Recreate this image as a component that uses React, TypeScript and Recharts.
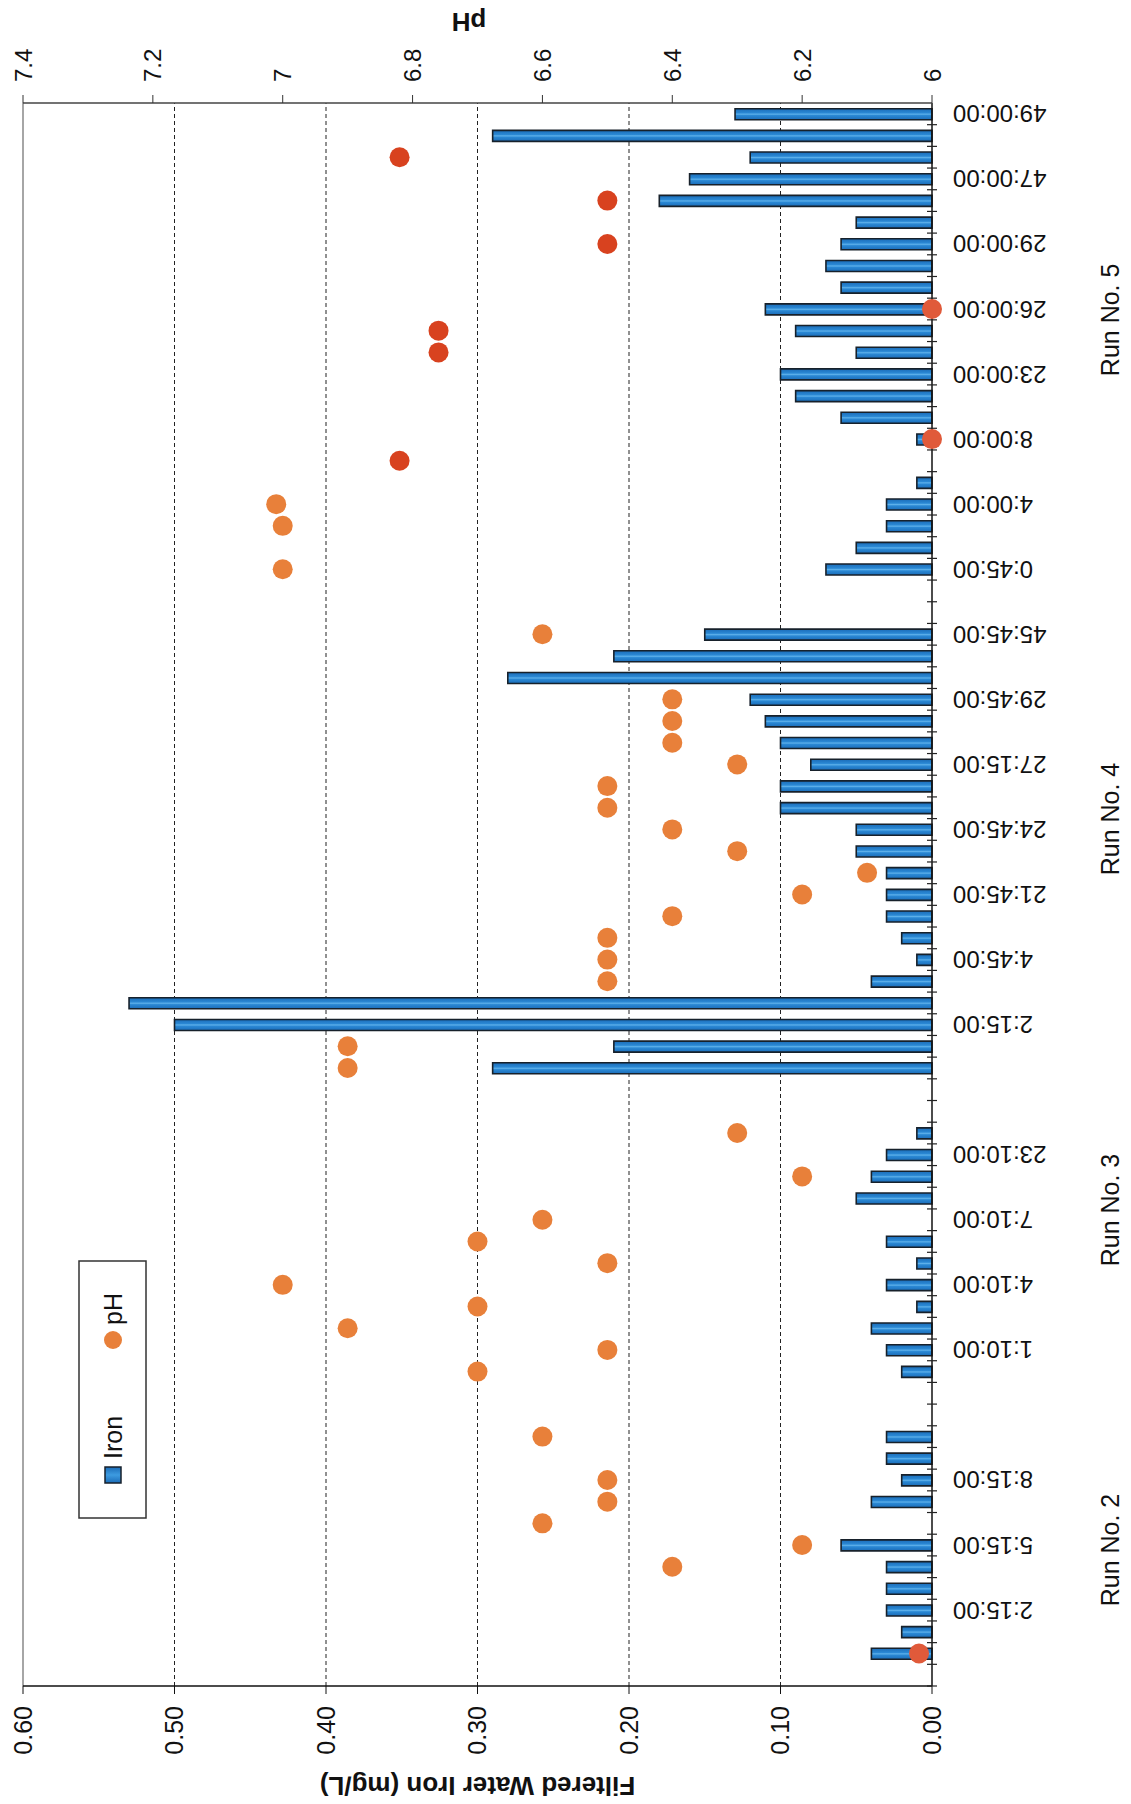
import React from 'react';
import { ComposedChart, Bar, Scatter, XAxis, YAxis, CartesianGrid, ReferenceLine } from 'recharts';

// Category labels (left→right in the unrotated chart; only every third is printed)
const timeLabels: string[] = [
  '', '', '',
  '2:15:00', '', '',
  '5:15:00', '', '',
  '8:15:00', '', '',
  '', '', '',
  '1:10:00', '', '',
  '4:10:00', '', '',
  '7:10:00', '', '',
  '23:10:00', '', '',
  '', '', '',
  '2:15:00', '', '',
  '4:45:00', '', '',
  '21:45:00', '', '',
  '24:45:00', '', '',
  '27:15:00', '', '',
  '29:45:00', '', '',
  '45:45:00', '', '',
  '0:45:00', '', '',
  '4:00:00', '', '',
  '8:00:00', '', '',
  '23:00:00', '', '',
  '26:00:00', '', '',
  '29:00:00', '', '',
  '47:00:00', '', '',
  '49:00:00',
];

// Filtered water iron (mg/L)
const ironValues: (number | null)[] = [
  null, 0.04, 0.02, 0.03, 0.03, 0.03, 0.06, null, 0.04, 0.02,
  0.03, 0.03, null, null, 0.02, 0.03, 0.04, 0.01, 0.03, 0.01,
  0.03, null, 0.05, 0.04, 0.03, 0.01, null, null, 0.29, 0.21,
  0.50, 0.53, 0.04, 0.01, 0.02, 0.03, 0.03, 0.03, 0.05, 0.05,
  0.10, 0.10, 0.08, 0.10, 0.11, 0.12, 0.28, 0.21, 0.15, null,
  null, 0.07, 0.05, 0.03, 0.03, 0.01, null, 0.01, 0.06, 0.09,
  0.10, 0.05, 0.09, 0.11, 0.06, 0.07, 0.06, 0.05, 0.18, 0.16,
  0.12, 0.29, 0.13,
];

// pH
const phValues: (number | null)[] = [
  null, 6.02, null, null, null, 6.40, 6.20, 6.60, 6.50, 6.50,
  null, 6.60, null, null, 6.70, 6.50, 6.90, 6.70, 7.00, 6.50,
  6.70, 6.60, null, 6.20, null, 6.30, null, null, 6.90, 6.90,
  null, null, 6.50, 6.50, 6.50, 6.40, 6.20, 6.10, 6.30, 6.40,
  6.50, 6.50, 6.30, 6.40, 6.40, 6.40, null, null, 6.60, null,
  null, 7.00, null, 7.00, 7.01, null, 6.82, 6.00, null, null,
  null, 6.76, 6.76, 6.00, null, null, 6.50, null, 6.50, null,
  6.82, null, null,
];

// category indices whose pH marker is drawn in the darker red / mid red tone
const redPointIdx = [56, 61, 62, 66, 68, 70];
const floorPointIdx = [1, 57, 63];

const ironTicks = [0, 0.1, 0.2, 0.3, 0.4, 0.5, 0.6];
const ironGridValues = [0.1, 0.2, 0.3, 0.4, 0.5];
const phTicks = [6, 6.2, 6.4, 6.6, 6.8, 7, 7.2, 7.4];

const runNames = ['Run No. 2', 'Run No. 3', 'Run No. 4', 'Run No. 5'];
const runCenters = [6.27, 21.95, 39.98, 63.0]; // in category units from the axis start

const data = timeLabels.map((label, idx) => ({
  idx,
  label,
  iron: ironValues[idx],
  ph: phValues[idx],
}));

const FONT = "'Liberation Sans', Arial, Helvetica, sans-serif";
const CHART_W = 1804;
const CHART_H = 1131;
const PLOT_L = 118;
const PLOT_R = 1701;
const PLOT_T = 23;
const PLOT_B = 932;
const N = timeLabels.length;
const BAND = (PLOT_R - PLOT_L) / N;

const ORANGE = '#E8803A';
const RED = '#D8421F';
const MIDRED = '#E05A3A';

const CatTick = (props: any) => {
  const { x, payload } = props;
  const i = Number(payload.value);
  const bx = x - BAND / 2;
  const label = timeLabels[i];
  const ty = PLOT_B + 21;
  return (
    <g>
      <line x1={bx} x2={bx} y1={PLOT_B - 5} y2={PLOT_B + 5} stroke="#222" strokeWidth={1.2} />
      {label ? (
        <text
          x={x}
          y={ty}
          transform={`rotate(-90 ${x} ${ty})`}
          textAnchor="end"
          dominantBaseline="central"
          fontSize={24}
          fill="#111"
          fontFamily={FONT}
        >
          {label}
        </text>
      ) : null}
    </g>
  );
};

const Dot = (p: any) => {
  const { cx, cy, payload } = p;
  if (!payload || payload.ph == null || cy == null || Number.isNaN(cy)) return <g />;
  const i = payload.idx;
  const fill = redPointIdx.includes(i) ? RED : floorPointIdx.includes(i) ? MIDRED : ORANGE;
  return <circle cx={cx} cy={cy} r={10} fill={fill} />;
};

export default function App() {
  return (
    <div
      style={{
        position: 'absolute',
        left: 0,
        top: 0,
        width: 1131,
        height: 1804,
        overflow: 'hidden',
        background: '#fff',
      }}
    >
      <div
        style={{
          position: 'absolute',
          left: 0,
          top: 0,
          width: CHART_W,
          height: CHART_H,
          transformOrigin: '0 0',
          transform: `translate(0px, ${CHART_W}px) rotate(-90deg)`,
        }}
      >
        <ComposedChart
          width={CHART_W}
          height={CHART_H}
          data={data}
          margin={{ top: PLOT_T, right: 0, bottom: 0, left: 0 }}
        >
          <defs>
            <linearGradient id="ironGrad" x1="0" y1="0" x2="1" y2="0">
              <stop offset="0%" stopColor="#1b6cb8" />
              <stop offset="38%" stopColor="#2a88d4" />
              <stop offset="50%" stopColor="#5db0ea" />
              <stop offset="62%" stopColor="#2a88d4" />
              <stop offset="100%" stopColor="#1b6cb8" />
            </linearGradient>
          </defs>
          <CartesianGrid
            yAxisId="iron"
            vertical={false}
            horizontalValues={ironGridValues}
            stroke="#222"
            strokeDasharray="4 3"
          />
          <XAxis
            dataKey="idx"
            type="category"
            height={CHART_H - PLOT_B}
            interval={0}
            tick={<CatTick />}
            tickLine={false}
            axisLine={{ stroke: '#111', strokeWidth: 1.5 }}
          />
          <YAxis
            yAxisId="iron"
            orientation="left"
            type="number"
            width={PLOT_L}
            domain={[0, 0.6]}
            ticks={ironTicks}
            interval={0}
            tickFormatter={(v: number) => v.toFixed(2)}
            tick={{ fontSize: 25, fill: '#111', fontFamily: FONT }}
            tickSize={8}
            tickMargin={12}
            tickLine={{ stroke: '#111' }}
            axisLine={{ stroke: '#111', strokeWidth: 1.5 }}
          />
          <YAxis
            yAxisId="ph"
            orientation="right"
            type="number"
            width={CHART_W - PLOT_R}
            domain={[6, 7.4]}
            ticks={phTicks}
            interval={0}
            tickFormatter={(v: number) => String(Number(v.toFixed(1)))}
            tick={{ fontSize: 24, fill: '#111', fontFamily: FONT }}
            tickSize={8}
            tickMargin={13}
            tickLine={{ stroke: '#333' }}
            axisLine={{ stroke: '#444', strokeWidth: 1.5 }}
          />
          <ReferenceLine yAxisId="iron" y={0.6} stroke="#888" strokeWidth={1.5} />
          <Bar
            yAxisId="iron"
            dataKey="iron"
            barSize={11}
            fill="url(#ironGrad)"
            stroke="#17212b"
            strokeWidth={1.6}
            isAnimationActive={false}
          />
          <Scatter yAxisId="ph" dataKey="ph" shape={<Dot />} isAnimationActive={false} />
        </ComposedChart>

        <svg
          width={CHART_W}
          height={CHART_H}
          style={{ position: 'absolute', left: 0, top: 0, pointerEvents: 'none' }}
        >
          <defs>
            <linearGradient id="ironGradLegend" x1="0" y1="0" x2="1" y2="0">
              <stop offset="0%" stopColor="#1b6cb8" />
              <stop offset="50%" stopColor="#3d9be0" />
              <stop offset="100%" stopColor="#1b6cb8" />
            </linearGradient>
          </defs>
          <text
            x={18}
            y={(PLOT_T + PLOT_B) / 2}
            transform={`rotate(-90 18 ${(PLOT_T + PLOT_B) / 2})`}
            textAnchor="middle"
            dominantBaseline="central"
            fontSize={26}
            fontWeight="bold"
            fontFamily={FONT}
            fill="#111"
          >
            Filtered Water Iron (mg/L)
          </text>
          <text
            x={1782}
            y={469}
            transform="rotate(-90 1782 469)"
            textAnchor="middle"
            dominantBaseline="central"
            fontSize={26}
            fontWeight="bold"
            fontFamily={FONT}
            fill="#111"
          >
            pH
          </text>
          {runNames.map((name, k) => (
            <text
              key={name}
              x={PLOT_L + runCenters[k] * BAND}
              y={1110}
              textAnchor="middle"
              dominantBaseline="central"
              fontSize={25}
              fontFamily={FONT}
              fill="#111"
            >
              {name}
            </text>
          ))}
          <g>
            <rect x={286} y={79} width={257} height={67} fill="#fff" stroke="#333" strokeWidth={1.5} />
            <rect x={321} y={105} width={16} height={16} fill="url(#ironGradLegend)" stroke="#17212b" strokeWidth={1.5} />
            <text x={345} y={113} dominantBaseline="central" fontSize={25} fontFamily={FONT} fill="#111">
              Iron
            </text>
            <circle cx={464} cy={113} r={9} fill={ORANGE} />
            <text x={479} y={113} dominantBaseline="central" fontSize={25} fontFamily={FONT} fill="#111">
              pH
            </text>
          </g>
        </svg>
      </div>
    </div>
  );
}
